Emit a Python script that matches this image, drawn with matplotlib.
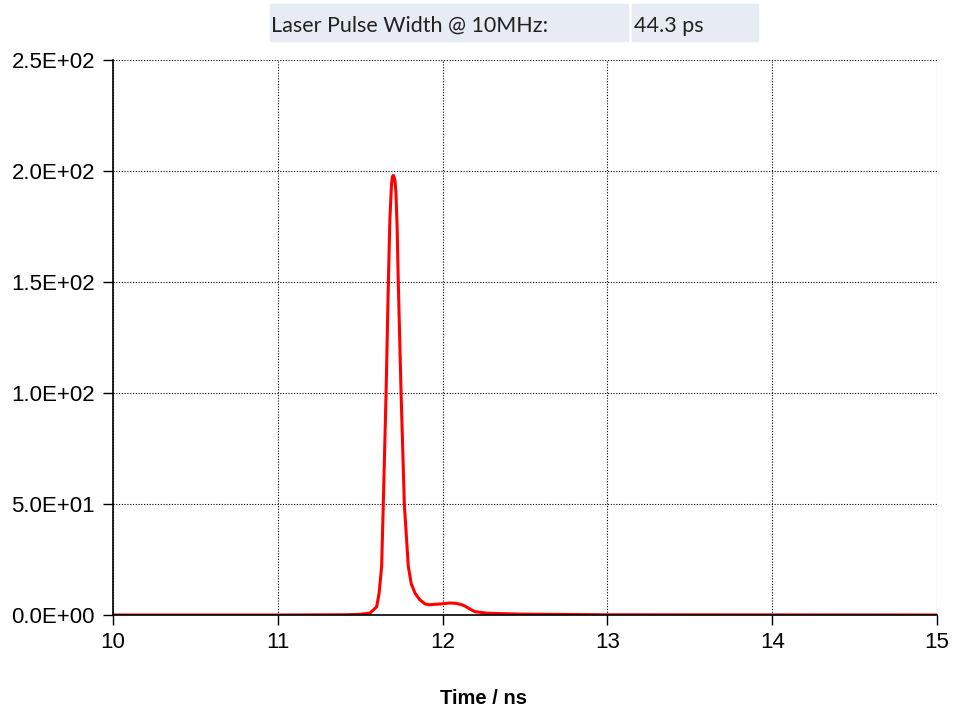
import matplotlib
matplotlib.use("Agg")
import matplotlib.pyplot as plt
from matplotlib.ticker import FuncFormatter
import matplotlib.patches as mpatches

plt.rcParams["font.family"] = ["Liberation Sans", "DejaVu Sans"]

# pulse trace (time in ns, signal)
time_ns = [10.0, 11.0, 11.40, 11.50, 11.56, 11.60, 11.615, 11.63, 11.64, 11.657,
           11.671, 11.68, 11.69, 11.696, 11.701, 11.707, 11.712, 11.717, 11.724,
           11.731, 11.748, 11.768, 11.792, 11.81, 11.833, 11.86, 11.893, 11.92,
           11.95, 11.994, 12.04, 12.075, 12.11, 12.136, 12.17, 12.197, 12.27,
           12.47, 13.0, 15.0]
signal = [0.0, 0.0, 0.1, 0.3, 0.9, 3.7, 10.0, 21.8, 49.5, 100.0,
          150.0, 178.0, 194.0, 197.5, 198.0, 197.0, 195.0, 190.0, 175.0,
          150.0, 100.0, 49.5, 21.8, 14.0, 9.8, 7.0, 5.0, 4.6,
          4.8, 5.0, 5.4, 5.3, 4.8, 4.0, 2.5, 1.5, 0.8,
          0.4, 0.1, 0.0]

x_ticks = [10, 11, 12, 13, 14, 15]
y_ticks = [0, 50, 100, 150, 200, 250]

header_label = "Laser Pulse Width @ 10MHz:"
header_value = "44.3 ps"

fig = plt.figure(figsize=(9.54, 7.13), dpi=100)
ax = fig.add_axes([113/954, 1 - 615/713, (937-113)/954, (615-60)/713])

ax.plot(time_ns, signal, color="red", lw=2.2, solid_joinstyle="round")

ax.set_xlim(10, 15)
ax.set_ylim(0, 250)
ax.set_xticks(x_ticks)
ax.set_yticks(y_ticks)
ax.yaxis.set_major_formatter(FuncFormatter(lambda v, p: "%.1E" % v))
ax.grid(True, color="black", linestyle=(0, (1, 1.5)), linewidth=0.8)
ax.spines["top"].set_visible(False)
ax.spines["right"].set_visible(False)
ax.spines["left"].set_linewidth(1.2)
ax.spines["bottom"].set_linewidth(1.2)
ax.tick_params(direction="out", length=7, width=1.0, labelsize=16)
ax.tick_params(axis="y", pad=6)
ax.tick_params(axis="x", pad=5)

fig.text(484/954, 1 - 698/713, "Time / ns", ha="center", va="center",
         fontsize=14.5, fontweight="bold")

# header boxes
fig.patches.append(mpatches.Rectangle((270/954, 1 - 41/713), (628-270)/954, 37/713,
                                      transform=fig.transFigure, color="#E7EBF3", zorder=0))
fig.patches.append(mpatches.Rectangle((632/954, 1 - 41/713), (758-632)/954, 37/713,
                                      transform=fig.transFigure, color="#E7EBF3", zorder=0))
fig.text(271/954, 1 - 26/713, header_label, ha="left", va="center",
         fontsize=15.5, family="Lato", color="#222222")
fig.text(634/954, 1 - 26/713, header_value, ha="left", va="center",
         fontsize=15.5, family="Lato", color="#222222")

fig.savefig("out.png", dpi=100)
